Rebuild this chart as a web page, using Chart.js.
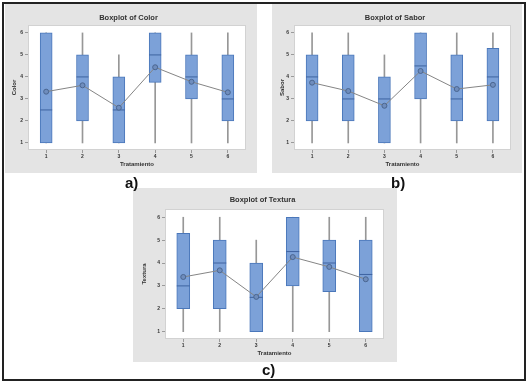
<!DOCTYPE html>
<html>
<head>
<meta charset="utf-8">
<script src="https://cdn.jsdelivr.net/npm/chart.js@4"></script>
<style>
  body { margin: 0; width: 531px; height: 385px; background: #fff; position: relative; overflow: hidden; font-family: "Liberation Sans", Arial, sans-serif; }
  .frame { position: absolute; left: 2px; top: 2px; width: 520px; height: 375px; border: 2px solid #222; }
  canvas { position: absolute; background: #e4e4e4; }
  .tag { position: absolute; font-weight: bold; font-size: 15px; color: #111; }
</style>
</head>
<body>
<div class="frame"></div>
<canvas id="chartColor" width="252" height="169" style="left:5px;top:4px"></canvas>
<canvas id="chartSabor" width="250" height="169" style="left:272px;top:4px"></canvas>
<canvas id="chartTextura" width="264" height="174" style="left:133px;top:188px"></canvas>
<div class="tag" style="left:125px;top:174px">a)</div>
<div class="tag" style="left:391px;top:174px">b)</div>
<div class="tag" style="left:262px;top:361px">c)</div>
<script>
// Categories and ticks
const tratamientos = ['1', '2', '3', '4', '5', '6'];
const yTicks = [1, 2, 3, 4, 5, 6];

// Color
const colorMin = [1, 1, 1, 1, 1, 1];
const colorQ1 = [1, 2, 1, 3.75, 3, 2];
const colorMedian = [2.5, 4, 2.5, 5, 4, 3];
const colorQ3 = [6, 5, 4, 6, 5, 5];
const colorMax = [6, 6, 5, 6, 6, 6];
const colorMean = [3.33, 3.62, 2.6, 4.44, 3.78, 3.3];

// Sabor
const saborMin = [1, 1, 1, 1, 1, 1];
const saborQ1 = [2, 2, 1, 3, 2, 2];
const saborMedian = [4, 3, 3, 4.5, 3, 4];
const saborQ3 = [5, 5, 4, 6, 5, 5.3];
const saborMax = [6, 6, 5, 6, 6, 6];
const saborMean = [3.74, 3.36, 2.69, 4.27, 3.45, 3.64];

// Textura
const texturaMin = [1, 1, 1, 1, 1, 1];
const texturaQ1 = [2, 2, 1, 3, 2.75, 1];
const texturaMedian = [3, 4, 2.5, 4.5, 4, 3.5];
const texturaQ3 = [5.3, 5, 4, 6, 5, 5];
const texturaMax = [6, 6, 5, 6, 6, 6];
const texturaMean = [3.39, 3.68, 2.52, 4.26, 3.83, 3.29];

const FONT = '"Liberation Sans", Arial, sans-serif';

// white plot area with a light frame
const plotFrame = {
    id: 'plotFrame',
    beforeDraw(chart) {
        const { ctx, chartArea: a } = chart;
        ctx.save();
        ctx.fillStyle = '#ffffff';
        ctx.fillRect(a.left, a.top, a.width, a.height);
        ctx.strokeStyle = '#d2d2d2';
        ctx.lineWidth = 1;
        ctx.strokeRect(Math.round(a.left) + 0.5, Math.round(a.top) + 0.5, Math.round(a.width) - 1, Math.round(a.height) - 1);
        ctx.restore();
    }
};

function makeBoxplot(id, title, yTitle, lo, q1, med, q3, hi, mean, lay) {
    const ctx = document.getElementById(id).getContext('2d');
    const whiskers = lo.map((v, i) => [v, hi[i]]);
    const boxes = q1.map((v, i) => [v, q3[i]]);
    new Chart(ctx, {
        type: 'bar',
        data: {
            labels: tratamientos,
            datasets: [
                {
                    type: 'line',
                    data: mean,
                    order: 0,
                    borderColor: '#858585',
                    borderWidth: 1,
                    pointRadius: 2.5,
                    pointBackgroundColor: '#6f8dbd',
                    pointBorderColor: '#4a6691',
                    pointBorderWidth: 1,
                    tension: 0
                },
                {
                    type: 'line',
                    data: med,
                    order: 1,
                    showLine: false,
                    pointStyle: 'line',
                    pointRadius: lay.box / 2,
                    pointBorderColor: '#3e63a0',
                    pointBorderWidth: 1
                },
                {
                    data: boxes,
                    order: 2,
                    grouped: false,
                    barThickness: lay.box,
                    backgroundColor: '#7ca1d8',
                    borderColor: '#4a77ba',
                    borderWidth: 1,
                    borderSkipped: false
                },
                {
                    data: whiskers,
                    order: 3,
                    grouped: false,
                    barThickness: 1,
                    backgroundColor: '#979797',
                    borderWidth: 0
                }
            ]
        },
        options: {
            responsive: false,
            animation: false,
            events: [],
            layout: { padding: { left: lay.padL, right: lay.padR, top: 0, bottom: lay.padB } },
            plugins: {
                legend: { display: false },
                tooltip: { enabled: false },
                title: {
                    display: true,
                    text: title,
                    color: '#333',
                    font: { family: FONT, size: 7.5, weight: 'bold', lineHeight: 1.2 },
                    padding: { top: lay.titleTop, bottom: lay.titleBottom }
                }
            },
            scales: {
                x: {
                    offset: true,
                    grid: { drawOnChartArea: false, offset: false, tickLength: 3, color: '#9a9a9a' },
                    border: { display: false },
                    ticks: { color: '#333', padding: 1, font: { family: FONT, size: 5, weight: 'bold' } },
                    title: {
                        display: true,
                        text: 'Tratamiento',
                        color: '#333',
                        padding: 0,
                        font: { family: FONT, size: 6, weight: 'bold', lineHeight: 1.2 }
                    },
                    afterFit(scale) { scale.height = lay.xh; }
                },
                y: {
                    min: 0.68,
                    max: 6.36,
                    grid: { drawOnChartArea: false, tickLength: 3, color: '#9a9a9a' },
                    border: { display: false },
                    ticks: { color: '#333', padding: 2, font: { family: FONT, size: 5, weight: 'bold' } },
                    afterBuildTicks(scale) { scale.ticks = yTicks.map(v => ({ value: v })); },
                    title: {
                        display: true,
                        text: yTitle,
                        color: '#333',
                        padding: 0,
                        font: { family: FONT, size: 6, weight: 'bold', lineHeight: 1.2 }
                    },
                    afterFit(scale) { scale.width = lay.yw; }
                }
            }
        },
        plugins: [plotFrame]
    });
}

makeBoxplot('chartColor', 'Boxplot of Color', 'Color',
    colorMin, colorQ1, colorMedian, colorQ3, colorMax, colorMean,
    { padL: 6, padR: 11, padB: 5, yw: 17, xh: 18, titleTop: 9, titleBottom: 3, box: 12 });

makeBoxplot('chartSabor', 'Boxplot of Sabor', 'Sabor',
    saborMin, saborQ1, saborMedian, saborQ3, saborMax, saborMean,
    { padL: 7, padR: 11, padB: 5, yw: 15, xh: 18, titleTop: 9, titleBottom: 3, box: 12 });

makeBoxplot('chartTextura', 'Boxplot of Textura', 'Textura',
    texturaMin, texturaQ1, texturaMedian, texturaQ3, texturaMax, texturaMean,
    { padL: 8, padR: 13, padB: 5, yw: 24, xh: 18, titleTop: 7.5, titleBottom: 4.5, box: 13 });
</script>
</body>
</html>
